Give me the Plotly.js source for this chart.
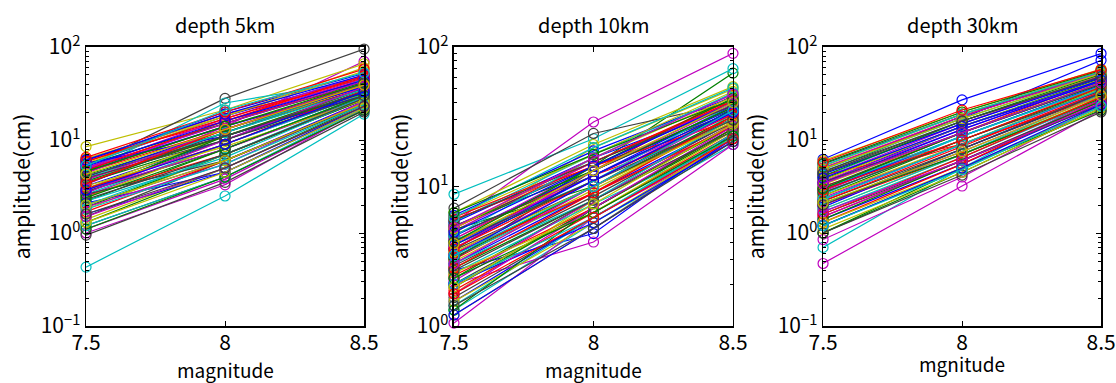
<!DOCTYPE html>
<html>
<head>
<meta charset="utf-8">
<script src="https://cdn.plot.ly/plotly-3.0.1.min.js"></script>
<style>html,body{margin:0;padding:0;background:#fff;}#chart{width:1116px;height:383px;}</style>
</head>
<body>
<div id="chart"></div>
<script>
// magnitudes (x values)
const mags = [7.5, 8, 8.5];
const xTickVals = [7.5, 8, 8.5];
const xTickText = ['7.5', '8', '8.5'];
const yTickVals = [0.1, 1, 10, 100];
const yTickText = ['10<sup>\u22121</sup>', '10<sup>0</sup>', '10<sup>1</sup>', '10<sup>2</sup>'];
const panelTitles = ['depth 5km', 'depth 10km', 'depth 30km'];
const xTitles = ['magnitude', 'magnitude', 'mgnitude'];
const yTitle = 'amplitude(cm)';

// amplitude (cm) at M7.5, M8, M8.5 for each site — depth 5km
const amp5km = [
  [5.5,18,48],[2.2,8,30],[6.2,16,40],[0.43,2.5,19],[3.3,14,70],[8.5,21,66],[5.2,28,95],
  [2.0,6,26],[1.3,5,24],[4.5,13,36],[2.8,8,30],[1.0,3.3,22],[1.8,7,28],[1.2,4.0,21],
  [6.0,20,52],[3.5,10,33],[5.0,15,45],[4.5,25,44],[2.5,9,31],[4.0,12,38],[0.95,3.5,20],
  [3.2,10,34],[4.2,12,40],[2.5,7,27],[2.6,9,33],[5.0,17,50],[1.4,5,23],[2.8,8,29],
  [1.6,4.5,22],[2.9,10,36],[5.8,19,42],[3.6,12,40],[1.1,3.8,21],[3.0,11,35],[1.5,6,25],
  [4.8,14,37],[1.9,7,27],[3.8,11,31],[2.2,6.5,28],[4.4,16,46],[2.4,9,32],[3.4,12,36],
  [2.1,4.5,23],[5.4,15,42],[1.7,6,25],[3.0,9,31],[1.9,5.5,26],[5.6,18,55],[2.6,6,24],
  [5.6,11,30],[2.7,11,35],[3.0,9,34],[1.2,4,22],[2.9,8,28],[6.3,18,60],[4.6,14,39],
  [4.0,13,38],[3.6,11,32],[5.9,17,47],[2.0,7,29],[4.9,15,43],[3.2,8.5,27],[2.3,7,28],
  [6.1,19,50],[1.1,4,21],[4.7,16,49],[3.9,12,35],[2.7,10,37],[1.3,4.5,22],[4.1,11,33],
  [5.2,16,44],[2.4,8,30],[6.5,20,58],[1.8,5.5,24],[3.7,13,41],[2.0,6,25],[3.9,10,30],
  [2.9,9,33],[4.6,14,41],[3.4,13,39],[5.3,21,53],[1.5,5,23],[4.3,13,39],[1.6,5,23]
];
// depth 10km
const amp10km = [
  [2.5,4.6,24],[3.5,14,65],[4.2,13,45],[8.8,22,70],[5.5,29,90],[6.5,20,52],[7.0,24,40],
  [1.5,6,22],[2.2,8,28],[3.0,10,30],[1.3,5.5,20],[1.05,6,21],[1.2,5,23],[2.0,7,26],
  [5.5,16,38],[3.8,11,34],[4.0,12,28],[3.1,9,33],[2.0,4,20],[1.7,8,27],[3.5,10,31],
  [2.8,9,29],[1.9,7,25],[5.0,15,42],[2.4,7.5,22],[3.3,11,35],[4.6,19,50],[1.6,6,23],
  [4.4,13,36],[2.6,8,27],[1.8,6.5,24],[5.6,17,46],[4.8,15,40],[2.9,9.5,30],[5.2,14,34],
  [3.6,12,38],[4.9,10,32],[2.3,7,26],[1.4,6,24],[3.9,12,33],[1.5,5.5,22],[2.7,8.5,29],
  [6.2,18,44],[3.1,10,36],[5.8,14,30],[4.1,11,39],[2.1,8,28],[6.0,17,48],[3.0,13,37],
  [2.0,5.5,21],[1.3,7,26],[3.3,9,27],[2.8,8,31],[4.2,14,41],[2.4,6.5,25],[4.5,12,35],
  [3.8,12,35],[5.2,13,37],[2.6,9,32],[4.4,16,47],[1.7,7,27],[5.0,16,44],[2.5,8,25],
  [1.2,5,22],[4.0,14,43],[6.0,15,41],[2.0,6,23],[3.6,13,39],[3.4,10,29],[5.7,15,38],
  [4.7,14,40],[2.2,6.5,23],[3.6,11,33],[6.0,19,51],[2.8,10,34],[1.9,7.5,28],[4.0,11,30],
  [3.2,11,34],[6.5,17,42],[1.7,6,22],[3.2,10,35],[5.1,16,46],[3.9,13,40],[1.4,5,21]
];
// depth 30km
const amp30km = [
  [6.2,27,85],[4.5,18,55],[3.0,12,45],[0.7,5,30],[0.47,3.2,21],[6.0,20,58],[5.5,19,50],
  [5.0,17,72],[1.0,4.5,22],[1.5,6,26],[2.0,8,33],[0.85,4,24],[1.8,7,29],[1.2,5,23],
  [3.5,14,42],[2.5,10,36],[3.2,9,30],[4.0,16,48],[2.8,11,38],[4.4,15,50],[2.2,8,31],
  [1.4,5.5,25],[1.0,5,21],[2.0,7,27],[1.7,6.5,28],[3.6,13,44],[5.2,19,55],[1.6,6,24],
  [2.9,11,39],[3.8,14,46],[1.3,5.5,27],[4.8,17,52],[2.4,9,34],[1.1,4.5,22],[3.1,12,40],
  [1.9,8,32],[2.7,10,36],[4.2,9,30],[2.6,11,38],[1.5,6,27],[3.3,12,42],[4.6,16,47],
  [2.3,9,35],[5.6,20,56],[2.2,8.5,33],[1.8,7,31],[3.9,15,49],[2.5,9,36],[1.0,4.2,20],
  [3.4,13,43],[1.4,6,26],[4.9,18,54],[3.0,11,37],[2.0,7.5,30],[3.7,14,45],[2.7,10,34],
  [4.3,15,47],[2.1,7,28],[1.6,6.5,29],[2.3,9,35],[5.0,18,53],[1.3,5,23],[3.5,12,41],
  [1.2,5,24],[4.1,16,51],[2.9,10,37],[5.3,19,54],[1.7,6,25],[4.9,17,52],[2.0,8,32],
  [3.9,14,44],[3.0,12,40],[5.8,21,57],[1.2,4.8,23],[3.4,12,41],[2.1,7.5,30],[4.4,16,48]
];

const palette = ['#0000ff', '#008000', '#ff0000', '#00bfbf', '#bf00bf', '#bfbf00', '#404040'];
const panels = [amp5km, amp10km, amp30km];
const axisIds = [['x', 'y'], ['x2', 'y2'], ['x3', 'y3']];

const traces = [];
panels.forEach((set, p) => {
  set.forEach((vals, i) => {
    const c = palette[i % palette.length];
    traces.push({
      x: mags, y: vals, xaxis: axisIds[p][0], yaxis: axisIds[p][1],
      type: 'scatter', mode: 'lines+markers', cliponaxis: false,
      line: {color: c, width: 1.2},
      marker: {symbol: 'circle-open', size: 10, color: c, line: {color: c, width: 1.2}},
      showlegend: false, hoverinfo: 'skip'
    });
  });
});

const font = 'Noto Sans CJK JP, Noto Sans, sans-serif';
const xDomains = [[0.0771, 0.3262], [0.4068, 0.6568], [0.7375, 0.9866]];
const yDomain = [0.1488, 0.8773];
const yRanges = [[-1, 2], [0, 2], [-1, 2]];
const yStandoff = [4, 2, 7];
const xTitleY = [369, 369, 363];

const layout = {
  width: 1116, height: 383,
  margin: {l: 0, r: 0, t: 0, b: 0},
  paper_bgcolor: '#fff', plot_bgcolor: '#fff',
  font: {family: font, color: '#000', size: 21},
  showlegend: false,
  annotations: []
};
for (let p = 0; p < 3; p++) {
  const sx = p === 0 ? '' : String(p + 1);
  layout['xaxis' + sx] = {
    domain: xDomains[p], anchor: 'y' + sx, range: [7.5, 8.5],
    tickmode: 'array', tickvals: xTickVals, ticktext: xTickText,
    ticks: 'inside', ticklen: 5, tickwidth: 1, tickcolor: '#000',
    showline: true, linecolor: '#000', linewidth: 1.5, mirror: 'ticks',
    showgrid: false, zeroline: false, automargin: false,
    ticklabelstandoff: -3,
    tickfont: {size: 21, family: font}
  };
  layout['yaxis' + sx] = {
    domain: yDomain, anchor: 'x' + sx, type: 'log', range: yRanges[p],
    tickmode: 'array', tickvals: yTickVals, ticktext: yTickText,
    ticks: 'inside', ticklen: 5, tickwidth: 1, tickcolor: '#000',
    minor: {dtick: 'D1', ticks: 'inside', ticklen: 3, tickcolor: '#000', showgrid: false},
    showline: true, linecolor: '#000', linewidth: 1.5, mirror: 'ticks',
    showgrid: false, zeroline: false, automargin: false,
    tickfont: {size: 21, family: font},
    title: {text: yTitle, font: {size: 21, family: font}, standoff: yStandoff[p]}
  };
  const cx = (xDomains[p][0] + xDomains[p][1]) / 2;
  layout.annotations.push({
    text: panelTitles[p], xref: 'paper', yref: 'paper',
    x: cx, y: 1 - 25 / 383,
    xanchor: 'center', yanchor: 'middle', showarrow: false,
    font: {size: 20, family: font, color: '#000'}
  });
  layout.annotations.push({
    text: xTitles[p], xref: 'paper', yref: 'paper',
    x: cx, y: 1 - xTitleY[p] / 383,
    xanchor: 'center', yanchor: 'middle', showarrow: false,
    font: {size: 19, family: font, color: '#000'}
  });
}

Plotly.newPlot('chart', traces, layout, {staticPlot: true, displayModeBar: false});
</script>
</body>
</html>
